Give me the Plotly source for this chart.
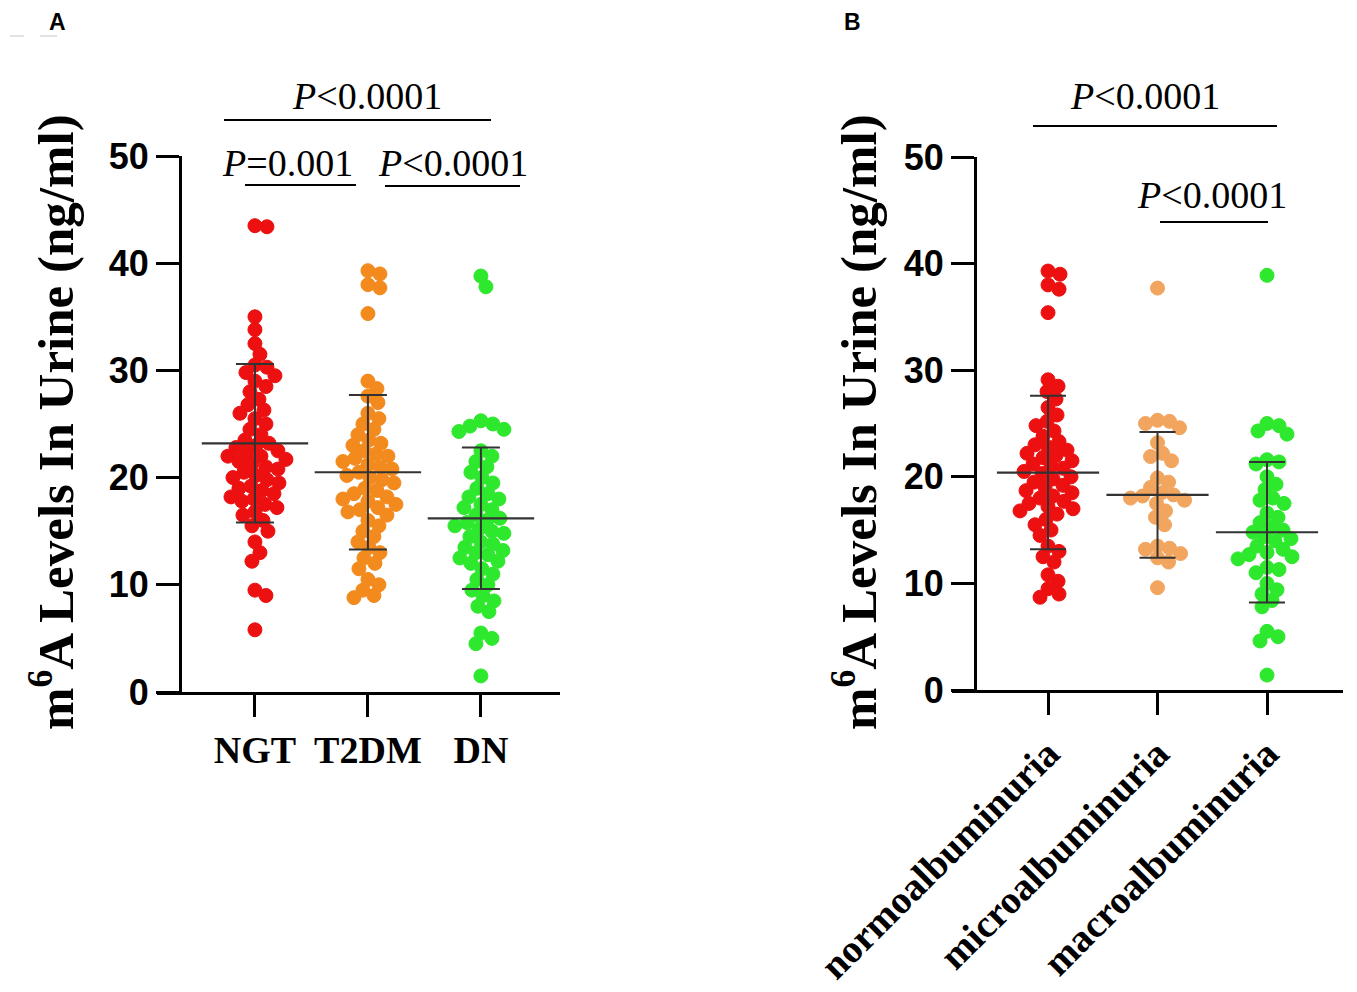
import numpy as np
import plotly.graph_objects as go

W, H = 1357, 992
PAGE_PAD = 8  # browser body margin around the figure

# ---- data (ng/ml) ----
groups_a = ["NGT", "T2DM", "DN"]
ngt = [43.5, 43.4, 35.0, 33.8, 32.5, 31.5, 30.5, 30.3, 29.8, 29.5, 29.0, 28.5,
       28.0, 27.3, 26.8, 26.3, 26.0, 25.5, 25.0, 24.5, 24.0, 23.5, 23.2, 23.0,
       22.8, 22.5, 22.3, 22.0, 22.0, 21.7, 21.5, 21.3, 21.0, 20.8, 20.5, 20.2,
       20.0, 19.8, 19.5, 19.2, 19.0, 18.8, 18.5, 18.2, 18.0, 17.8, 17.5, 17.2,
       16.8, 16.5, 16.0, 15.5, 15.0, 14.0, 13.0, 12.2, 9.5, 9.0, 5.8]
t2dm = [39.3, 39.0, 38.0, 37.7, 35.3, 29.0, 28.3, 27.6, 27.0, 26.0, 25.5, 25.0,
        24.5, 24.0, 23.5, 23.2, 23.0, 22.5, 22.2, 22.0, 21.8, 21.5, 21.2, 21.0,
        20.8, 20.5, 20.2, 20.0, 19.8, 19.5, 19.0, 18.8, 18.5, 18.2, 18.0, 17.8,
        17.5, 17.2, 17.0, 16.8, 16.5, 16.0, 15.5, 15.0, 14.5, 14.0, 13.5, 13.0,
        12.5, 12.0, 11.5, 10.5, 10.0, 9.5, 9.0, 8.8]
dn = [38.8, 37.8, 25.3, 25.0, 24.8, 24.5, 24.3, 22.5, 22.0, 21.5, 21.0, 20.5,
      20.0, 19.5, 19.0, 18.5, 18.2, 18.0, 17.5, 17.2, 17.0, 16.5, 16.2, 16.0,
      15.8, 15.5, 15.2, 15.0, 14.8, 14.5, 14.0, 13.8, 13.5, 13.2, 13.0, 12.8,
      12.5, 12.2, 12.0, 11.5, 11.0, 10.5, 10.0, 9.5, 9.0, 8.5, 8.0, 7.5, 5.5,
      5.0, 4.5, 1.5]
mean_a = [23.2, 20.5, 16.2]
sd_a = [7.4, 7.2, 6.6]

groups_b = ["normoalbuminuria", "microalbuminuria", "macroalbuminuria"]
normo = [39.3, 39.0, 38.0, 37.6, 35.4, 29.1, 28.5, 28.0, 27.3, 26.5, 25.8, 25.2,
         24.8, 24.3, 23.8, 23.3, 23.0, 22.8, 22.5, 22.2, 22.0, 21.8, 21.5, 21.2,
         21.0, 20.8, 20.5, 20.3, 20.0, 19.8, 19.5, 19.2, 19.0, 18.7, 18.5, 18.2,
         18.0, 17.7, 17.5, 17.2, 17.0, 16.8, 16.5, 16.0, 15.5, 15.0, 14.5, 13.5,
         13.0, 12.5, 12.0, 10.8, 10.2, 9.5, 9.0, 8.7]
micro = [37.7, 25.3, 25.2, 25.0, 24.6, 23.2, 22.2, 21.9, 21.5, 19.9, 19.5, 19.0,
         18.5, 18.3, 18.2, 18.0, 17.8, 17.5, 16.8, 16.2, 15.5, 13.5, 13.3, 13.2,
         12.8, 12.4, 12.0, 9.6]
macro = [38.9, 25.0, 24.8, 24.3, 24.0, 21.6, 21.4, 21.2, 20.0, 19.3, 18.8, 18.0,
         17.8, 17.5, 16.6, 16.2, 15.7, 15.3, 15.0, 14.8, 14.4, 14.2, 14.0, 13.5,
         13.2, 12.9, 12.7, 12.5, 12.3, 11.5, 11.3, 11.0, 10.0, 9.4, 9.0, 8.4, 7.8,
         5.5, 5.0, 4.6, 1.4]
mean_b = [20.4, 18.3, 14.8]
sd_b = [7.2, 5.9, 6.6]

colors_a = ["#ec1010", "#f28a1e", "#2ee82e"]
colors_b = ["#ec1010", "#f2a55e", "#2ee82e"]

SERIF = "Liberation Serif, Times New Roman, serif"
SANS = "Liberation Sans, Arial, sans-serif"


def swarm(values, px_x, px_y, d=11.5):
    """beeswarm x offsets (in category units) so dots don't pile up"""
    placed = []
    offsets = []
    for v in values:
        yp = v * px_y
        k = 0
        while True:
            cand = 0.0 if k == 0 else ((k + 1) // 2) * (1 if k % 2 else -1)
            ok = all((cand - ox) ** 2 + (yp - oy) ** 2 >= d * d for ox, oy in placed)
            if ok:
                break
            k += 1
        placed.append((cand, yp))
        offsets.append(cand / px_x)
    return np.array(offsets)


def px(x):
    return (x - PAGE_PAD) / W


def py(y):
    return 1 - (y - PAGE_PAD) / H


fig = go.Figure()

panels = [
    dict(xa="x", ya="y", groups=groups_a, data=[ngt, t2dm, dn], colors=colors_a,
         mean=mean_a, sd=sd_a, pxx=113.0, pxy=10.72, bar=76, cap=19),
    dict(xa="x2", ya="y2", groups=groups_b, data=[normo, micro, macro], colors=colors_b,
         mean=mean_b, sd=sd_b, pxx=109.5, pxy=10.66, bar=73, cap=18),
]

for p in panels:
    for i, (vals, col) in enumerate(zip(p["data"], p["colors"])):
        offs = swarm(vals, p["pxx"], p["pxy"])
        fig.add_trace(go.Scatter(
            x=i + offs, y=vals, mode="markers", xaxis=p["xa"], yaxis=p["ya"],
            marker=dict(size=14, color=col, line=dict(width=1, color=col)),
            showlegend=False, hoverinfo="y",
        ))
    fig.add_trace(go.Scatter(
        x=list(range(3)), y=p["mean"], mode="markers", xaxis=p["xa"], yaxis=p["ya"],
        marker=dict(symbol="line-ew", size=p["bar"], color="#333333",
                    line=dict(width=2.2, color="#333333")),
        error_y=dict(type="data", array=p["sd"], color="#333333",
                     thickness=2, width=p["cap"]),
        showlegend=False, hoverinfo="skip",
    ))

axis_common = dict(showline=True, linecolor="black", linewidth=3, ticks="outside",
                   tickwidth=3, tickcolor="black", showgrid=False, zeroline=False,
                   automargin=False)
ytick_font = dict(family=SANS, size=36, color="black", weight="bold")

fig.update_layout(
    width=W, height=H, margin=dict(l=0, r=0, t=0, b=0, autoexpand=False),
    plot_bgcolor="white", paper_bgcolor="white",
    xaxis=dict(**axis_common, domain=[px(157), px(560)], range=[-0.867, 2.70],
               anchor="y", tickmode="array", tickvals=[0, 1, 2], ticktext=groups_a,
               ticklen=22, tickfont=dict(family=SERIF, size=38, color="black", weight="bold")),
    yaxis=dict(**axis_common, domain=[py(692), py(156)], range=[0, 50],
               anchor="free", position=px(180), tickvals=[0, 10, 20, 30, 40, 50],
               ticklen=23, tickfont=ytick_font),
    xaxis2=dict(**axis_common, domain=[px(952), px(1343)], range=[-0.877, 2.694],
                anchor="y2", tickmode="array", tickvals=[0, 1, 2], ticktext=groups_b,
                tickangle=-45, ticklen=22,
                tickfont=dict(family=SERIF, size=39, color="black", weight="bold")),
    yaxis2=dict(**axis_common, domain=[py(690), py(157)], range=[0, 50],
                anchor="free", position=px(975), tickvals=[0, 10, 20, 30, 40, 50],
                ticklen=23, tickfont=ytick_font),
)

ytitle = "<b>m<sup>6</sup>A Levels In Urine (ng/ml)</b>"
annotations = [
    dict(x=px(52), y=py(422), text=ytitle, textangle=-90,
         font=dict(family=SERIF, size=51, color="black")),
    dict(x=px(855), y=py(422), text=ytitle, textangle=-90,
         font=dict(family=SERIF, size=51, color="black")),
]

# significance brackets: (text centre x, text centre y, line x0, line x1, line y)
brackets = [
    (367, 96, 224, 491, 120),
    (287, 163, 245, 356, 185),
    (453, 163, 385, 520, 186),
    (1145, 96, 1033, 1277, 126),
    (1212, 195, 1160, 1268, 222),
]
labels = ["&lt;0.0001", "=0.001", "&lt;0.0001", "&lt;0.0001", "&lt;0.0001"]
shapes = []
for (tx, ty, x0, x1, ly), lab in zip(brackets, labels):
    annotations.append(dict(x=px(tx), y=py(ty), text="<i>P</i>" + lab,
                            font=dict(family=SERIF, size=38, color="black")))
    shapes.append(dict(type="line", xref="paper", yref="paper",
                       x0=px(x0), x1=px(x1), y0=py(ly), y1=py(ly),
                       line=dict(color="black", width=2)))

for a in annotations:
    a.update(yanchor="middle")

# panel letters, pinned to the top edge
for lx, letter in [(57, "A"), (852, "B")]:
    annotations.append(dict(x=px(lx), y=1.0, yanchor="top", text="<b>%s</b>" % letter,
                            borderpad=0, font=dict(family=SANS, size=23, color="black")))

# faint marks in the top-left corner of the original
for x0, x1 in [(10, 24), (40, 57)]:
    shapes.append(dict(type="line", xref="paper", yref="paper",
                       x0=px(x0), x1=px(x1), y0=py(36), y1=py(36),
                       line=dict(color="#d8d8d8", width=1.5)))

for a in annotations:
    a.update(xref="paper", yref="paper", showarrow=False, xanchor="center")

fig.update_layout(annotations=annotations, shapes=shapes)

fig.write_html("out.html")
